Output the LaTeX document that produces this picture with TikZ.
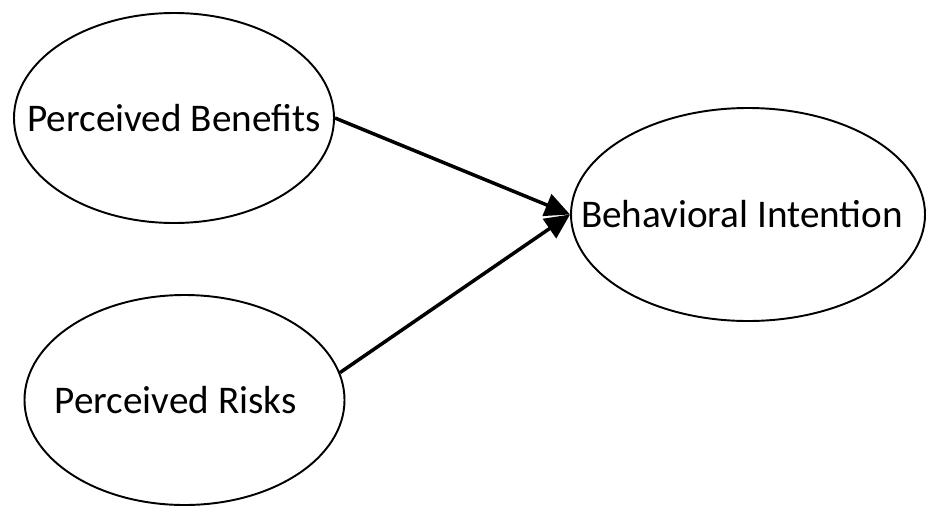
\documentclass[tikz,border=0pt]{standalone}
\usepackage{fontspec}
\setmainfont{Carlito}
\usetikzlibrary{shapes.geometric,arrows.meta}
\newcommand{\flatlabel}[1]{\makebox[0pt]{#1}}
\begin{document}
\begin{tikzpicture}[factor_node/.style={ellipse,draw,line width=1.1pt,inner sep=0pt,font=\fontsize{22.3}{25}\selectfont},path_arrow/.style={line width=2pt,-{Triangle[length=0.5cm,width=0.46cm]}}]
		\useasboundingbox (0,0) rectangle (18.54,10.12);

		\node[factor_node,minimum width=6.4cm,minimum height=4.2cm] (benefits) at (3.48,7.76) {\flatlabel{Perceived Benefits}};
		\node[factor_node,minimum width=6.4cm,minimum height=4.2cm] (risks) at (3.69,2.12) {\flatlabel{\hspace*{-0.36cm}Perceived Risks}};
		\node[factor_node,minimum width=7.08cm,minimum height=4.26cm] (intention) at (14.96,5.83) {\flatlabel{\hspace*{-0.24cm}Behavioral Intention}};

		\draw[path_arrow] (benefits.east) -- (intention.west);
		\draw[path_arrow] (risks.10) -- (intention.west);
		\end{tikzpicture}
\end{document}
